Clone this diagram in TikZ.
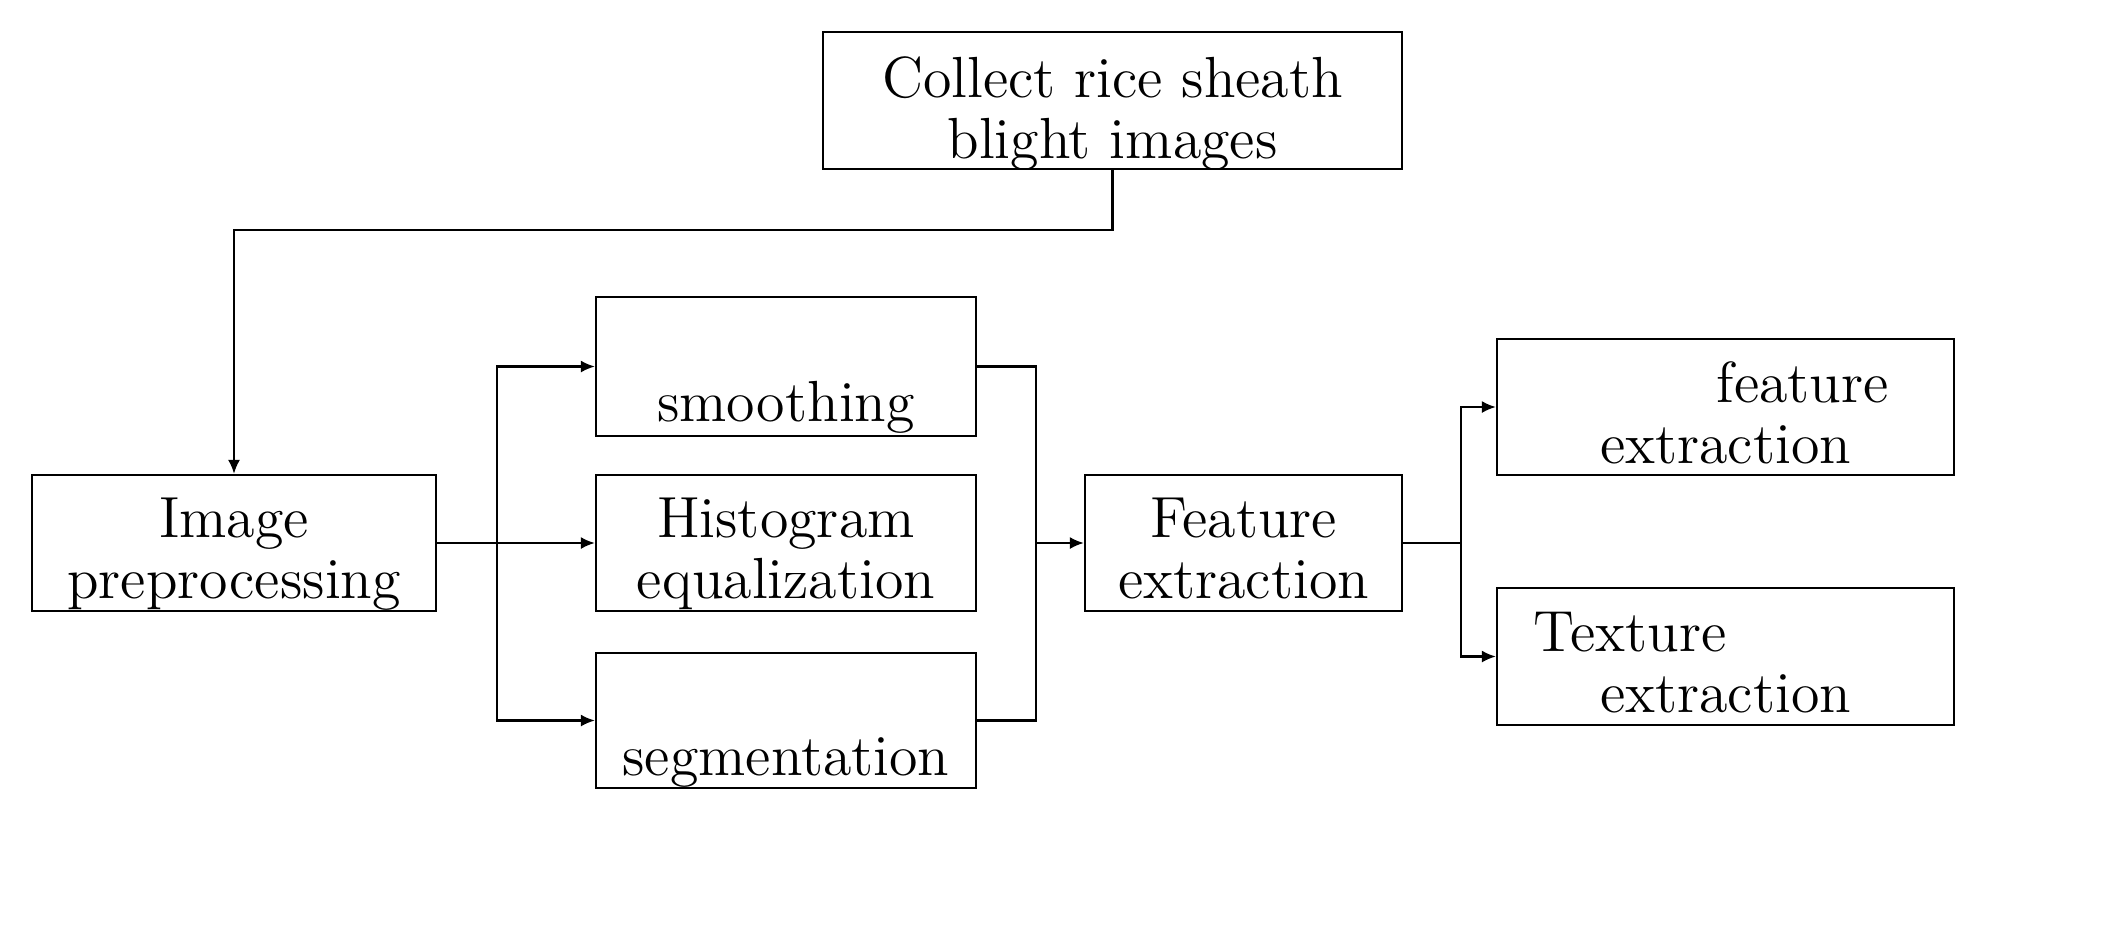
\documentclass[tikz,border=0pt]{standalone}
\usetikzlibrary{arrows.meta}
\begin{document}
\begin{tikzpicture}[x=0.25pt,y=-0.25pt,
  box/.style={draw, line width=0.55pt, inner sep=0pt},
  txt/.style={inner sep=0pt, align=center, anchor=base,
    font=\fontsize{14.5}{15.25}\selectfont},
  conn/.style={line width=0.55pt},
  arr/.style={conn, -{Latex[length=3.5pt,width=3pt]}}]
\useasboundingbox (0,0) rectangle (2116,946);
\node[box, minimum width=144.75pt, minimum height=34.25pt] (collect) at (1112.5,100.5) {};
\node[box, minimum width=101pt, minimum height=34pt] (pre) at (234,543) {};
\node[box, minimum width=95pt, minimum height=34.75pt] (smooth) at (786,366.5) {};
\node[box, minimum width=95pt, minimum height=34pt] (hist) at (786,543) {};
\node[box, minimum width=95pt, minimum height=33.75pt] (seg) at (786,720.5) {};
\node[box, minimum width=79.25pt, minimum height=34pt] (feat) at (1243.5,543) {};
\node[box, minimum width=114.25pt, minimum height=34pt] (color) at (1725.5,407) {};
\node[box, minimum width=114.25pt, minimum height=34.25pt] (tex) at (1725.5,656.5) {};
\node[txt] (collect-t) at (1112.5,158) {Collect rice sheath\\blight images};
\node[txt] (pre-t) at (234,598) {Image\\preprocessing};
\node[txt] (smooth-t) at (786,421) {\strut\\smoothing};
\node[txt] (hist-t) at (786,598) {Histogram\\equalization};
\node[txt] (seg-t) at (786,775.5) {\strut\\segmentation};
\node[txt] (feat-t) at (1243.5,598) {Feature\\extraction};
\node[txt] (color-t) at (1725.5,463) {\hphantom{Color} feature\\extraction};
\node[txt] (tex-t) at (1725.5,712.5) {Texture \hphantom{feature}\\extraction};
\coordinate (s1) at (497,543);
\coordinate (m1) at (1036,366.5);
\coordinate (m2) at (1036,720.5);
\coordinate (m0) at (1036,543);
\coordinate (s2) at (1461,543);
\draw[arr] (collect.south) -- ++(0,60) -| (pre.north);
\draw[conn] (pre.east) -- (s1);
\draw[arr] (s1) |- (smooth.west);
\draw[arr] (s1) -- (hist.west);
\draw[arr] (s1) |- (seg.west);
\draw[conn] (smooth.east) -- (m1) -- (m2) -- (seg.east);
\draw[arr] (m0) -- (feat.west);
\draw[conn] (feat.east) -- (s2);
\draw[arr] (s2) |- (color.west);
\draw[arr] (s2) |- (tex.west);
\end{tikzpicture}
\end{document}
